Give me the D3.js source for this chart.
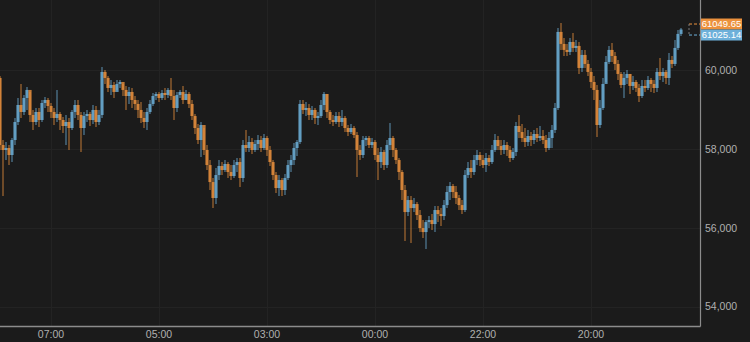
<!DOCTYPE html>
<html>
<head>
<meta charset="utf-8">
<script src="https://cdn.jsdelivr.net/npm/d3@7"></script>
<style>
  html, body { margin: 0; padding: 0; background: #1b1b1b; }
  svg { display: block; font-family: "Liberation Sans", Arial, sans-serif; }
</style>
</head>
<body>
<script>
const firstOpen = 59798;
const closes = [
  58099, 57973, 58023, 57846, 58226, 58682, 59113, 58936, 59291, 59494,
  58860, 58682, 58936, 58733, 59164, 59240, 59088, 58936, 58784, 58885,
  58733, 58581, 58682, 58530, 58936, 59113, 58860, 58530, 58834, 58885,
  58733, 58987, 58682, 58860, 59950, 59798, 59544, 59620, 59443, 59646,
  59696, 59494, 59341, 59443, 59240, 59139, 58987, 58784, 58682, 58936,
  59139, 59341, 59392, 59291, 59417, 59367, 59494, 59341, 59037, 59367,
  59443, 59240, 59392, 59139, 58834, 58530, 58226, 58606, 57973, 57592,
  57161, 56756, 57339, 57567, 57466, 57618, 57415, 57313, 57592, 57668,
  57263, 58099, 58023, 58175, 57973, 58125, 58226, 58023, 58277, 57973,
  57668, 57339, 57009, 57212, 56959, 57263, 57592, 57719, 58023, 58175,
  59139, 58987, 59037, 58860, 58987, 58784, 58834, 59113, 59392, 58936,
  58733, 58682, 58834, 58682, 58784, 58530, 58429, 58530, 58353, 57973,
  57846, 58226, 58277, 58099, 58175, 57846, 57668, 57922, 57592, 58099,
  58277, 57973, 57719, 57415, 56959, 56401, 56705, 56502, 56604, 56325,
  55995, 55894, 56147, 56198, 56097, 56452, 56350, 56299, 56578, 56908,
  57060, 56908, 56756, 56578, 56452, 57339, 57516, 57415, 57719, 57846,
  57719, 57592, 57770, 57668, 57973, 58226, 58074, 57973, 58099, 57973,
  57770, 57922, 58581, 58429, 58277, 58175, 58327, 58226, 58378, 58277,
  58327, 58226, 58023, 58277, 58480, 59037, 60964, 60660, 60508, 60457,
  60710, 60558, 60609, 60051, 60381, 60153, 59950, 59696, 59494, 58606,
  59037, 59646, 60203, 60508, 60355, 60153, 59899, 59620, 59798, 59899,
  59595, 59696, 59544, 59341, 59595, 59544, 59747, 59646, 59544, 59950,
  59848, 59950, 59798, 60254, 60153, 60558, 60913, 61025.14
];
const highs = [
  59848, 58226, 58175, 58099, 58277, 58784, 59291, 59646, 59367, 59570,
  59443, 58987, 59037, 59037, 59240, 59316, 59291, 59164, 59037, 59494,
  58936, 58809, 58860, 58784, 58987, 59240, 59240, 58936, 58936, 58987,
  58936, 59113, 59088, 58987, 60077, 60000, 59848, 59747, 59696, 59747,
  59747, 59646, 59595, 59570, 59544, 59341, 59240, 59189, 58936, 59037,
  59240, 59417, 59443, 59443, 59494, 59544, 59544, 59798, 59494, 59443,
  59494, 59595, 59494, 59443, 59240, 58885, 58632, 58682, 58530, 58099,
  57719, 57263, 57516, 57719, 57668, 57719, 57668, 57592, 57719, 57770,
  57770, 58226, 58480, 58327, 58277, 58226, 58353, 58327, 58378, 58327,
  58074, 57719, 57415, 57339, 57263, 57364, 57719, 57846, 58150, 58226,
  59240, 59240, 59189, 59139, 59088, 59037, 58936, 59240, 59443, 59392,
  58987, 58860, 58936, 58936, 58987, 58834, 58606, 58632, 58581, 58429,
  58099, 58327, 58327, 58327, 58277, 58226, 58023, 58049, 57973, 58226,
  58657, 58327, 58023, 57770, 57466, 57085, 56806, 56806, 56756, 56654,
  56452, 56198, 56198, 56299, 56350, 56553, 56553, 56502, 56705, 57060,
  57161, 57111, 57060, 56832, 56705, 57466, 57668, 57719, 57846, 57973,
  57922, 57846, 57896, 57846, 58099, 58378, 58327, 58226, 58226, 58175,
  58074, 58023, 58682, 58860, 58632, 58530, 58480, 58429, 58480, 58530,
  58581, 58480, 58353, 58429, 58606, 59164, 61065, 61192, 60812, 60660,
  60812, 60938, 60761, 60710, 60508, 60508, 60254, 60051, 59848, 59620,
  59240, 59798, 60355, 60609, 60685, 60457, 60254, 59950, 59950, 60000,
  59899, 59848, 59747, 59646, 59747, 59747, 59848, 59798, 59747, 60051,
  60305, 60051, 60000, 60431, 60355, 60761, 61015, 61065
];
const lows = [
  57973, 56806, 57719, 57592, 57668, 58099, 58606, 58784, 58860, 58987,
  58682, 58480, 58606, 58556, 58682, 59037, 58936, 58784, 58606, 58682,
  58480, 58403, 58099, 57973, 58480, 58784, 58733, 57922, 58353, 58682,
  58581, 58632, 58556, 58606, 58784, 59646, 59443, 59367, 59291, 59494,
  59544, 59341, 58987, 59139, 59037, 58987, 58784, 58657, 58530, 58480,
  58885, 59088, 59240, 59189, 59240, 59240, 59291, 59240, 58733, 58936,
  59291, 59139, 59240, 59037, 58733, 58378, 58125, 57795, 57846, 57466,
  56959, 56502, 56604, 57212, 57339, 57415, 57263, 57212, 57263, 57415,
  57035, 57161, 57922, 57922, 57871, 57922, 57973, 57922, 57973, 57820,
  57567, 57212, 56882, 56806, 56806, 56832, 57212, 57415, 57592, 57820,
  58125, 58885, 58834, 58733, 58733, 58632, 58606, 58784, 58987, 58784,
  58632, 58581, 58632, 58556, 58581, 58429, 58327, 58378, 58277, 57288,
  57719, 57770, 58074, 58023, 58023, 57719, 57212, 57516, 57466, 57516,
  57973, 57795, 57618, 57212, 56705, 55666, 56299, 55615, 56401, 56198,
  55894, 55742, 55463, 55995, 55945, 55894, 56147, 56046, 56198, 56502,
  56705, 56756, 56604, 56452, 56350, 56401, 57263, 57263, 57339, 57592,
  57567, 57516, 57415, 57567, 57618, 57922, 57973, 57846, 57871, 57820,
  57668, 57719, 57820, 58277, 58175, 58049, 58074, 58074, 58125, 58175,
  58201, 58125, 57922, 57973, 58023, 58403, 58987, 60508, 60355, 60355,
  60381, 60457, 60457, 59899, 59950, 60051, 59848, 59544, 59240, 58302,
  58530, 58987, 59696, 60153, 60203, 60000, 59747, 59544, 59291, 59646,
  59392, 59494, 59443, 59189, 59291, 59443, 59494, 59443, 59417, 59443,
  59747, 59696, 59646, 59620, 60051, 60102, 60508, 60862
];
const askPrice = 61049.65;
const lastPrice = 61025.14;
const timeTicks = [17, 53, 89, 125, 161, 197];
const timeLabels = ["07:00", "05:00", "03:00", "00:00", "22:00", "20:00"];
const priceTicks = [54000, 56000, 58000, 60000];

const width = 750, height = 342;
const plotRight = 700, plotBottom = 326;
const orange = "#ec913d", blue = "#6db0da";

let candles = closes.map((c, i) => ({
  i: i,
  open: i == 0 ? firstOpen : closes[i - 1],
  close: c,
  high: highs[i],
  low: lows[i]
}));

let svg = d3.select("body").append("svg")
  .attr("width", width)
  .attr("height", height);

svg.append("rect")
  .attr("width", width)
  .attr("height", height)
  .attr("fill", "#1b1b1b");

let x = d3.scaleBand()
  .domain(d3.range(candles.length))
  .range([-1.5, -1.5 + 3 * candles.length]);
let y = d3.scaleLinear()
  .domain([53514, 61773])
  .range([plotBottom, 0]);
let cx = i => x(i) + x.bandwidth() / 2;

let grid = svg.append("g");
grid.selectAll("line.h")
  .data(priceTicks)
  .join("line")
  .attr("class", "h")
  .attr("x1", 0).attr("x2", plotRight)
  .attr("y1", d => Math.round(y(d)) + 0.5)
  .attr("y2", d => Math.round(y(d)) + 0.5)
  .attr("stroke", "#232323");
grid.selectAll("line.v")
  .data(timeTicks)
  .join("line")
  .attr("class", "v")
  .attr("x1", d => Math.round(cx(d)) + 0.5)
  .attr("x2", d => Math.round(cx(d)) + 0.5)
  .attr("y1", 0).attr("y2", plotBottom)
  .attr("stroke", "#232323");

let plot = svg.append("g");
plot.selectAll("line.wick")
  .data(candles)
  .join("line")
  .attr("class", "wick")
  .attr("x1", d => cx(d.i))
  .attr("x2", d => cx(d.i))
  .attr("y1", d => y(d.high))
  .attr("y2", d => y(d.low))
  .attr("stroke", d => d.close >= d.open ? blue : orange)
  .attr("stroke-opacity", 0.5)
  .attr("stroke-width", 1.6);
plot.selectAll("rect.body")
  .data(candles)
  .join("rect")
  .attr("class", "body")
  .attr("x", d => cx(d.i) - 1.6)
  .attr("width", 3.2)
  .attr("y", d => y(Math.max(d.open, d.close)))
  .attr("height", d => Math.max(1, Math.abs(y(d.open) - y(d.close))))
  .attr("fill", d => d.close >= d.open ? blue : orange)
  .attr("fill-opacity", 0.8);

svg.append("line")
  .attr("x1", 0).attr("x2", plotRight + 0.5)
  .attr("y1", plotBottom + 0.5).attr("y2", plotBottom + 0.5)
  .attr("stroke", "#8c8c8c")
  .attr("stroke-width", 1.5);
svg.append("line")
  .attr("x1", plotRight + 0.5).attr("x2", plotRight + 0.5)
  .attr("y1", 0).attr("y2", plotBottom + 0.5)
  .attr("stroke", "#8c8c8c")
  .attr("stroke-width", 1.2);

svg.append("g").selectAll("text")
  .data(priceTicks)
  .join("text")
  .attr("x", 705)
  .attr("y", d => y(d))
  .attr("dy", "0.35em")
  .attr("fill", "#b0b0b0")
  .style("font-size", "10.5px")
  .text(d => d3.format(",d")(d));

svg.append("g").selectAll("text")
  .data(timeTicks)
  .join("text")
  .attr("x", d => cx(d))
  .attr("y", 338)
  .attr("text-anchor", "middle")
  .attr("fill", "#b0b0b0")
  .style("font-size", "10.5px")
  .text((d, i) => timeLabels[i]);

let lastX = cx(candles.length - 1);
let py = y(lastPrice);
let tags = [
  { price: askPrice, color: orange, cy: py - 5.5 },
  { price: lastPrice, color: blue, cy: py + 5.5 }
];
let connX = lastX + 8;
svg.append("line")
  .attr("x1", connX).attr("x2", plotRight)
  .attr("y1", tags[0].cy).attr("y2", tags[0].cy)
  .attr("stroke", orange).attr("stroke-dasharray", "3,2");
svg.append("line")
  .attr("x1", connX).attr("x2", plotRight)
  .attr("y1", tags[1].cy).attr("y2", tags[1].cy)
  .attr("stroke", blue).attr("stroke-dasharray", "3,2");
svg.append("line")
  .attr("x1", connX).attr("x2", connX)
  .attr("y1", tags[0].cy).attr("y2", tags[1].cy)
  .attr("stroke", "#7a7a7a").attr("stroke-dasharray", "2,2");

let tag = svg.append("g").selectAll("g")
  .data(tags)
  .join("g");
tag.append("rect")
  .attr("x", 701)
  .attr("y", d => d.cy - 5.5)
  .attr("width", 41)
  .attr("height", 11)
  .attr("fill", d => d.color);
tag.append("text")
  .attr("x", 721.5)
  .attr("y", d => d.cy)
  .attr("dy", "0.36em")
  .attr("text-anchor", "middle")
  .attr("fill", "#ffffff")
  .style("font-size", "9.5px")
  .text(d => d3.format(".2f")(d.price));
</script>
</body>
</html>
